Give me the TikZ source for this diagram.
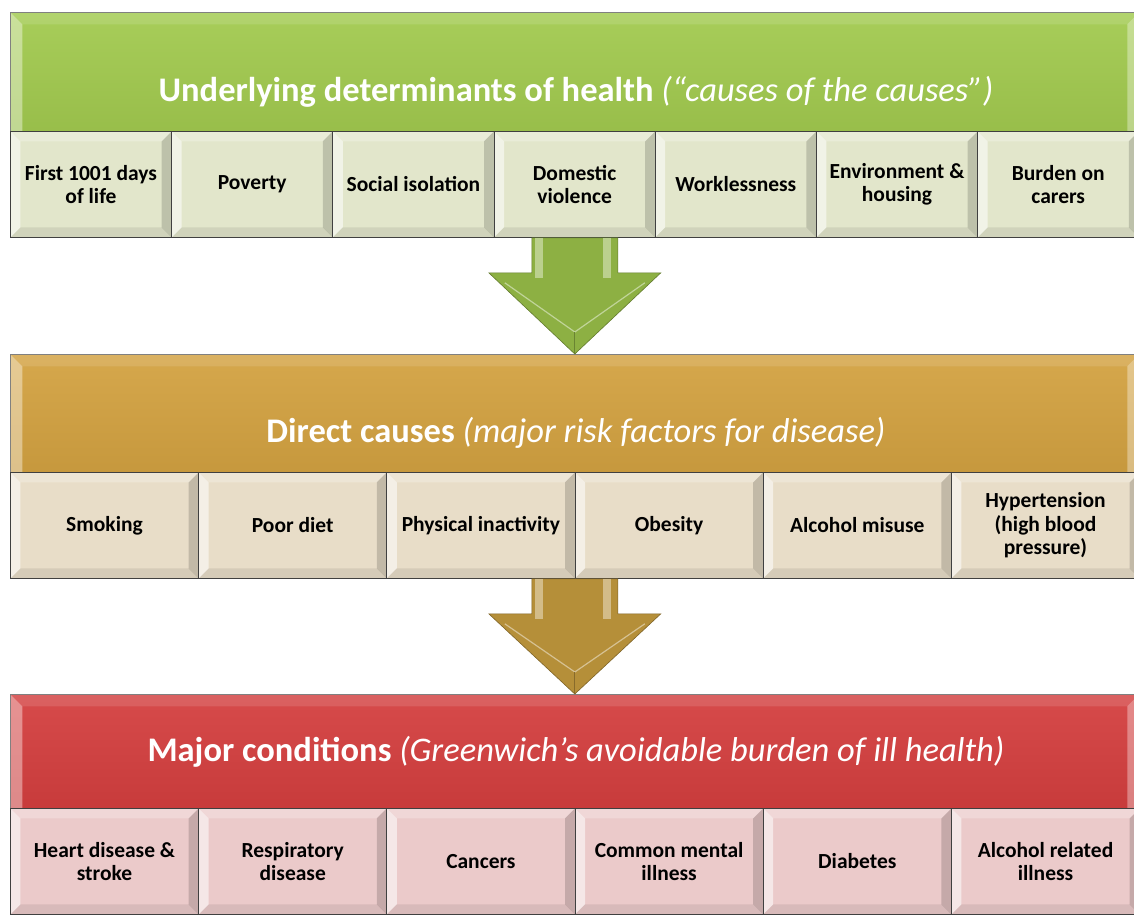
\documentclass[tikz,border=0pt]{standalone}
\usepackage{fontspec}
\setmainfont{Carlito}
\usetikzlibrary{positioning,calc}

\definecolor{detgreen}{HTML}{A2CA4F}
\definecolor{detcell}{HTML}{E2E6CB}
\definecolor{dirgold}{HTML}{D3A241}
\definecolor{dircell}{HTML}{E8DDC8}
\definecolor{conred}{HTML}{D43F3F}
\definecolor{concell}{HTML}{EBCACA}
\definecolor{arrgreen}{HTML}{8DB043}
\definecolor{arrgold}{HTML}{B58F39}

\tikzset{
  bevel/.style={path picture={
      \fill[white,opacity=0.55] (path picture bounding box.north west) -- (path picture bounding box.south west)
        -- ([shift={(#1,#1)}]path picture bounding box.south west) -- ([shift={(#1,-#1)}]path picture bounding box.north west) -- cycle;
      \fill[white,opacity=0.25] (path picture bounding box.north west) -- (path picture bounding box.north east)
        -- ([shift={(-#1,-#1)}]path picture bounding box.north east) -- ([shift={(#1,-#1)}]path picture bounding box.north west) -- cycle;
      \fill[black,opacity=0.16] (path picture bounding box.north east) -- (path picture bounding box.south east)
        -- ([shift={(-#1,#1)}]path picture bounding box.south east) -- ([shift={(-#1,-#1)}]path picture bounding box.north east) -- cycle;
      \fill[black,opacity=0.08] (path picture bounding box.south west) -- (path picture bounding box.south east)
        -- ([shift={(-#1,#1)}]path picture bounding box.south east) -- ([shift={(#1,#1)}]path picture bounding box.south west) -- cycle;
  }},
  bevel/.default=10pt,
  bannerbevel/.style={path picture={
      \fill[white,opacity=0.4] (path picture bounding box.north west) -- (path picture bounding box.south west)
        -- ([xshift=#1]path picture bounding box.south west) -- ([shift={(#1,-#1)}]path picture bounding box.north west) -- cycle;
      \fill[white,opacity=0.12] (path picture bounding box.north west) -- (path picture bounding box.north east)
        -- ([shift={(-#1,-#1)}]path picture bounding box.north east) -- ([shift={(#1,-#1)}]path picture bounding box.north west) -- cycle;
      \fill[white,opacity=0.35] (path picture bounding box.north east) -- (path picture bounding box.south east)
        -- ([xshift=-#1]path picture bounding box.south east) -- ([shift={(-#1,-#1)}]path picture bounding box.north east) -- cycle;
  }},
  banner/.style={draw=black!50, line width=0.6pt, anchor=north west, inner sep=0pt,
    minimum width=1129pt, top color=#1!94!white, bottom color=#1!94!black, bannerbevel=12pt},
  cell/.style={draw=black!75, line width=0.8pt, anchor=north west, inner sep=0pt,
    minimum height=106pt, fill=#1, bevel, align=center,
    font=\fontsize{21.5}{23.5}\selectfont\bfseries},
  title/.style={text=white, font=\fontsize{34.5}{40}\selectfont}
}

\newcommand{\blockarrow}[3]{%
  \fill[#3, draw=#3!70!black, line width=0.6pt]
    ($(#1)+(-43pt,0pt)$) -- ($(#1)+(-43pt,-35pt)$) -- ($(#1)+(-86pt,-35pt)$) -- (#2)
    -- ($(#1)+(86pt,-35pt)$) -- ($(#1)+(43pt,-35pt)$) -- ($(#1)+(43pt,0pt)$) -- cycle;
  \fill[#3!60!white] ($(#1)+(-40pt,0pt)$) rectangle ($(#1)+(-32pt,-40pt)$);
  \fill[#3!60!white] ($(#1)+(28pt,0pt)$) rectangle ($(#1)+(36pt,-40pt)$);
  \draw[#3!55!white, line width=1.2pt]
    ($(#1)+(-70pt,-45pt)$) -- ($(#2)+(0pt,22pt)$) -- ($(#1)+(70pt,-45pt)$);
  \draw[#3!75!black, line width=1pt] ($(#2)+(0pt,22pt)$) -- (#2);
}

\begin{document}
\begin{tikzpicture}[x=1pt,y=-1pt]
  \useasboundingbox[fill=white] (0,0) rectangle (1134,914);

  % banners
  \node[banner=detgreen, minimum height=119pt] (det) at (10,12) {};
  \node[banner=dirgold, minimum height=118pt] (dir) at (10,354) {};
  \node[banner=conred, minimum height=114pt] (con) at (10,694) {};

  \node[title] (dettitle) at (576,92)
    {\bfseries Underlying determinants of health \mdseries\itshape (“causes of the causes”)};
  \node[title] (dirtitle) at (576,433)
    {\bfseries Direct causes \mdseries\itshape (major risk factors for disease)};
  \node[title] (contitle) at (576,752)
    {\bfseries Major conditions \mdseries\itshape (Greenwich’s avoidable burden of ill health)};

  % rows
  \foreach \txt [count=\i] in {{First 1001 days\\of life}, Poverty, Social isolation,
      {Domestic\\violence}, Worklessness, {Environment \&\\housing}, {Burden on\\carers}}
    \node[cell=detcell, minimum width=161.2pt] (d\i) at ({10+(\i-1)*161.2},131) {\txt};

  \foreach \txt [count=\i] in {Smoking, Poor diet, Physical inactivity, Obesity,
      Alcohol misuse, {Hypertension\\(high blood\\pressure)}}
    \node[cell=dircell, minimum width=188.2pt] (r\i) at ({10+(\i-1)*188.2},472) {\txt};

  \foreach \txt [count=\i] in {{Heart disease \&\\stroke}, {Respiratory\\disease}, Cancers,
      {Common mental\\illness}, Diabetes, {Alcohol related\\illness}}
    \node[cell=concell, minimum width=188.2pt] (c\i) at ({10+(\i-1)*188.2},808) {\txt};

  % arrows
  \coordinate (arrA) at (det.center |- d1.south);
  \coordinate (tipA) at (det.center |- dir.north);
  \blockarrow{arrA}{tipA}{arrgreen}

  \coordinate (arrB) at (dir.center |- r1.south);
  \coordinate (tipB) at (dir.center |- con.north);
  \blockarrow{arrB}{tipB}{arrgold}
\end{tikzpicture}
\end{document}
